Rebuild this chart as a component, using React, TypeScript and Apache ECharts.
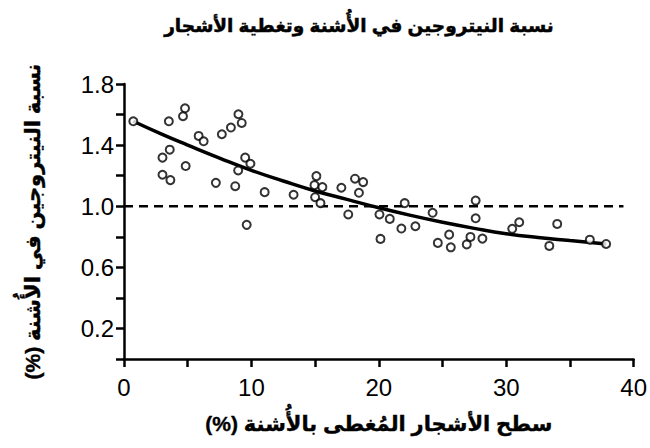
import React, { useEffect, useRef } from "react";
import * as echarts from "echarts";

const titleText = "نسبة النيتروجين في الأُشنة وتغطية الأشجار";
const xAxisName = "سطح الأشجار المُغطى بالأُشنة (%)";
const yAxisName = "نسبة النيتروجين في الأُشنة (%)";

// observed points: tree cover (%) vs lichen nitrogen (%)
const coverX = [
  0.73, 3.52, 4.79, 4.63, 3.02, 3.59, 3.02, 3.64, 4.84, 5.86,
  6.25, 7.21, 7.68, 8.39, 8.98, 9.24, 8.73, 8.96, 9.51, 9.63,
  9.92, 11.04, 13.31, 15.1, 14.95, 15.57, 15.0, 15.42, 17.06, 18.13,
  18.77, 18.44, 17.6, 20.05, 20.86, 20.13, 22.03, 21.77, 22.87, 24.22,
  24.63, 25.52, 25.65, 26.9, 27.19, 27.6, 27.6, 28.13, 30.47, 31.02,
  34.0, 33.38, 36.56, 37.84,
];
const nitrogenY = [
  1.556, 1.556, 1.641, 1.589, 1.318, 1.37, 1.206, 1.171, 1.263, 1.46,
  1.425, 1.153, 1.471, 1.515, 1.602, 1.545, 1.131, 1.234, 1.318, 0.878,
  1.278, 1.092, 1.075, 1.197, 1.138, 1.125, 1.059, 1.02, 1.121, 1.18,
  1.158, 1.088, 0.946, 0.946, 0.917, 0.786, 1.02, 0.854, 0.869, 0.957,
  0.76, 0.814, 0.731, 0.75, 0.799, 1.037, 0.921, 0.788, 0.852, 0.895,
  0.884, 0.74, 0.781, 0.753,
];

// fitted curve
const fitX = [0.73, 3, 5, 7.5, 10, 12.5, 15, 17.5, 20, 22.5, 25, 27.5, 30, 32.5, 35, 37.84];
const fitY = [1.556, 1.47, 1.4, 1.315, 1.235, 1.165, 1.1, 1.045, 0.99, 0.94, 0.895, 0.855, 0.82, 0.795, 0.775, 0.753];

// reference line at 1.0
const refX = [0, 39.2];
const refY = [1, 1];

const FONT = "'Liberation Sans', Arial, 'DejaVu Sans', sans-serif";
// right-to-left isolate so the parentheses sit at the visual end of the Arabic text
const rtl = (s: string) => "\u2067" + s + "\u2069";

export default function App() {
  const ref = useRef<HTMLDivElement>(null);
  useEffect(() => {
    if (!ref.current) return;
    const chart = echarts.init(ref.current, undefined, { renderer: "svg" });
    const axisLine = { show: true, lineStyle: { color: "#000", width: 2.5 } };
    const axisTick = { show: true, inside: false, length: 8, lineStyle: { color: "#000", width: 2.5 } };
    const nameStyle = {
      fontFamily: FONT,
      fontSize: 21,
      fontWeight: "bold",
      color: "#000",
      textBorderColor: "#000",
      textBorderWidth: 0.4,
    };
    chart.setOption({
      animation: false,
      backgroundColor: "#fff",
      title: {
        text: rtl(titleText),
        left: 354,
        top: 11,
        textAlign: "center",
        textStyle: {
          fontFamily: FONT,
          fontSize: 18.5,
          fontWeight: "bold",
          color: "#000",
          textBorderColor: "#000",
          textBorderWidth: 0.5,
        },
      },
      grid: { left: 124, right: 14, top: 84, bottom: 89, containLabel: false },
      xAxis: {
        type: "value",
        min: 0,
        max: 40,
        interval: 5,
        name: rtl(xAxisName),
        nameLocation: "middle",
        nameGap: 54,
        nameTextStyle: nameStyle,
        axisLine,
        axisTick,
        splitLine: { show: false },
        axisLabel: {
          margin: 16,
          fontFamily: FONT,
          fontSize: 24,
          color: "#000",
          formatter: (v: number) => (Math.round(v) % 10 === 0 ? String(Math.round(v)) : ""),
        },
      },
      yAxis: {
        type: "value",
        min: 0,
        max: 1.8,
        interval: 0.2,
        name: rtl(yAxisName),
        nameLocation: "middle",
        nameGap: 81,
        nameRotate: 90,
        nameTextStyle: nameStyle,
        axisLine,
        axisTick,
        splitLine: { show: false },
        axisLabel: {
          margin: 10,
          fontFamily: FONT,
          fontSize: 24,
          color: "#000",
          formatter: (v: number) => (Math.round(v * 10) % 4 === 2 ? v.toFixed(1) : ""),
        },
      },
      series: [
        {
          type: "line",
          data: refX.map((x, i) => [x, refY[i]]),
          symbol: "none",
          lineStyle: { color: "#000", width: 2.5, type: [9, 6] },
          silent: true,
          z: 1,
        },
        {
          type: "line",
          data: fitX.map((x, i) => [x, fitY[i]]),
          symbol: "none",
          smooth: true,
          lineStyle: { color: "#000", width: 3.5 },
          z: 2,
        },
        {
          type: "scatter",
          data: coverX.map((x, i) => [x, nitrogenY[i]]),
          symbol: "circle",
          symbolSize: 8,
          itemStyle: { color: "#fff", borderColor: "#000", borderWidth: 2 },
          z: 3,
        },
      ],
    });
    return () => chart.dispose();
  }, []);
  return <div ref={ref} style={{ width: 650, height: 448, position: "absolute", left: 0, top: 0 }} />;
}
